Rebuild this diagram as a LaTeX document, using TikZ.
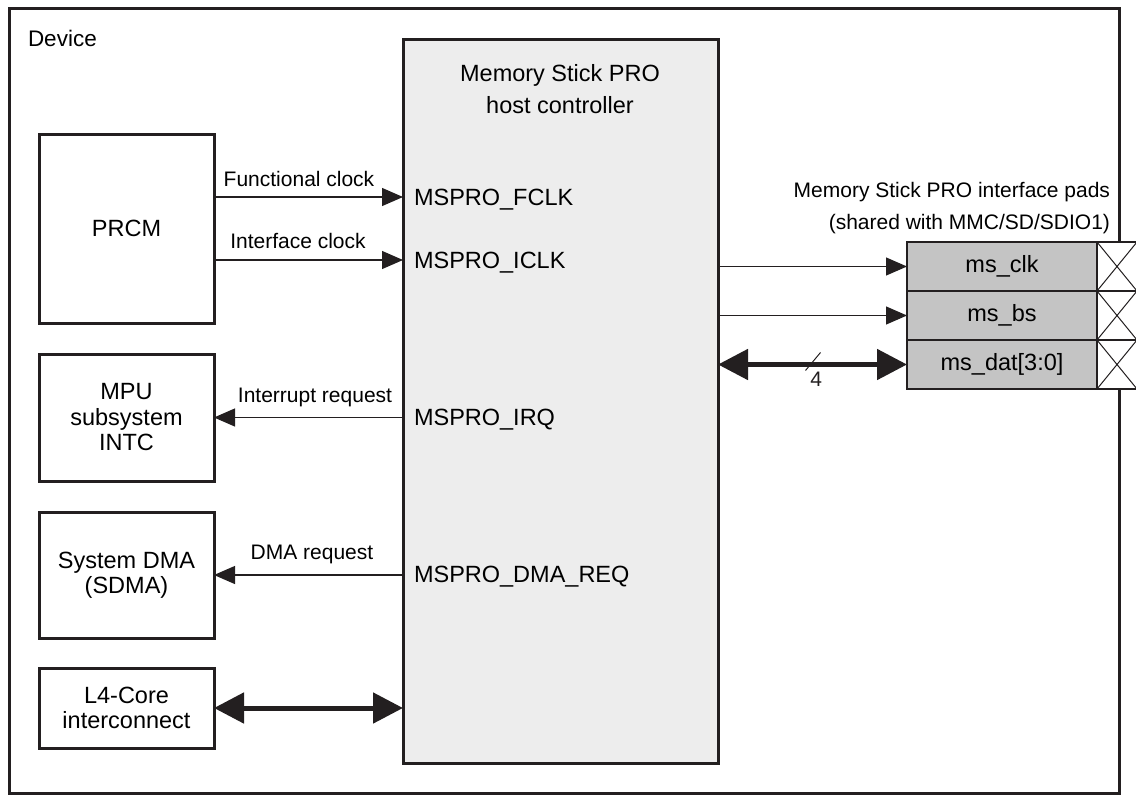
\documentclass[tikz,border=0pt]{standalone}
\usepackage{fontspec}
\setmainfont{Liberation Sans}
\usepackage{xcolor}
\usetikzlibrary{positioning,arrows.meta,calc}
\definecolor{ink}{HTML}{231F20}
\definecolor{hostgray}{HTML}{EDEDED}
\definecolor{padgray}{HTML}{C4C4C4}

\begin{document}
\begin{tikzpicture}[
  x=1pt,y=-1pt,
  >={Triangle[length=21pt,width=18pt]},
  every node/.style={font=\fontsize{23.5}{25.5}\selectfont,align=center,inner sep=0pt,outer sep=0pt},
  unit/.style={draw=ink,line width=3pt,minimum width=175pt,anchor=north west},
  pad/.style={draw=ink,line width=1.2pt,fill=padgray,minimum width=190pt,minimum height=49pt},
  xpad/.style={draw=ink,line width=1.2pt,fill=white,minimum width=40pt,minimum height=49pt},
  sig/.style={->,line width=1.2pt,ink},
  bus/.style={{Triangle[length=30pt,width=30pt]}-{Triangle[length=30pt,width=30pt]},line width=5pt,ink},
  lbl/.style={font=\fontsize{21}{25}\selectfont,anchor=base},
  pinlbl/.style={anchor=base west}
]
\useasboundingbox (0,0) rectangle (1136,798);
\node[draw=ink,line width=3pt,minimum width=1110pt,minimum height=785pt,anchor=north west] (device) at (9,8) {};
\node[anchor=base west,font=\fontsize{22.5}{25}\selectfont] (devname) at (28,46) {Device};

% host controller
\node[unit,fill=hostgray,minimum width=315pt,minimum height=724pt] (host) at (403,39) {};
\node[font=\fontsize{23.5}{32}\selectfont] (title) at (560,89) {Memory Stick PRO\\host controller};
\node[pinlbl] (pfclk) at (414,205) {MSPRO\_FCLK};
\node[pinlbl] (piclk) at (414,268) {MSPRO\_ICLK};
\node[pinlbl] (pirq) at (414,425) {MSPRO\_IRQ};
\node[pinlbl] (pdma) at (414,582) {MSPRO\_DMA\_REQ};
\coordinate (fclk) at (403,197);
\coordinate (iclk) at (403,260);

% device modules
\node[unit,minimum height=189pt] (prcm) at (39,134) {PRCM};
\node[unit,minimum height=127pt] (mpu) at (39,354) {MPU\\subsystem\\INTC};
\node[unit,minimum height=126pt] (sdma) at (39,512) {System DMA\\(SDMA)};
\node[unit,minimum height=80pt] (l4) at (39,668) {L4-Core\\interconnect};

\draw[sig] (prcm.east |- fclk) -- (fclk);
\draw[sig] (prcm.east |- iclk) -- (iclk);
\draw[sig] (host.west |- mpu.east) -- (mpu.east);
\draw[sig] (host.west |- sdma.east) -- (sdma.east);
\draw[bus] (l4.east) -- (host.west |- l4.east);
\node[lbl] (lfclk) at (299,186) {Functional clock};
\node[lbl] (liclk) at (298,248) {Interface clock};
\node[lbl] (lirq) at (315,402) {Interrupt request};
\node[lbl] (ldma) at (312,559) {DMA request};

% interface pads
\node[font=\fontsize{21}{32}\selectfont,align=right,anchor=north east] (padhdr) at (1110,182.7) {Memory Stick PRO interface pads\\(shared with MMC/SD/SDIO1)};
\node[pad,anchor=north west] (clkpad) at (907,242) {ms\_clk};
\node[pad,below=0pt of clkpad] (bspad) {ms\_bs};
\node[pad,below=0pt of bspad] (datpad) {ms\_dat[3:0]};
\node[xpad,right=0pt of clkpad] (clkx) {};
\node[xpad,right=0pt of bspad] (bsx) {};
\node[xpad,right=0pt of datpad] (datx) {};
\draw[ink,line width=1pt] (clkx.north west) -- (clkx.south east) (clkx.south west) -- (clkx.north east);
\draw[ink,line width=1pt] (bsx.north west) -- (bsx.south east) (bsx.south west) -- (bsx.north east);
\draw[ink,line width=1pt] (datx.north west) -- (datx.south east) (datx.south west) -- (datx.north east);

\draw[sig] (host.east |- clkpad) -- (clkpad.west);
\draw[sig] (host.east |- bspad) -- (bspad.west);
\draw[bus] (host.east |- datpad) -- (datpad.west) coordinate[pos=0.5] (busmid) node[lbl,pos=0.52,anchor=north,below=7.5pt] (width) {4};
\draw[ink,line width=1pt] ($(busmid)+(-7,6)$) -- ++(15,-18);
\end{tikzpicture}
\end{document}
